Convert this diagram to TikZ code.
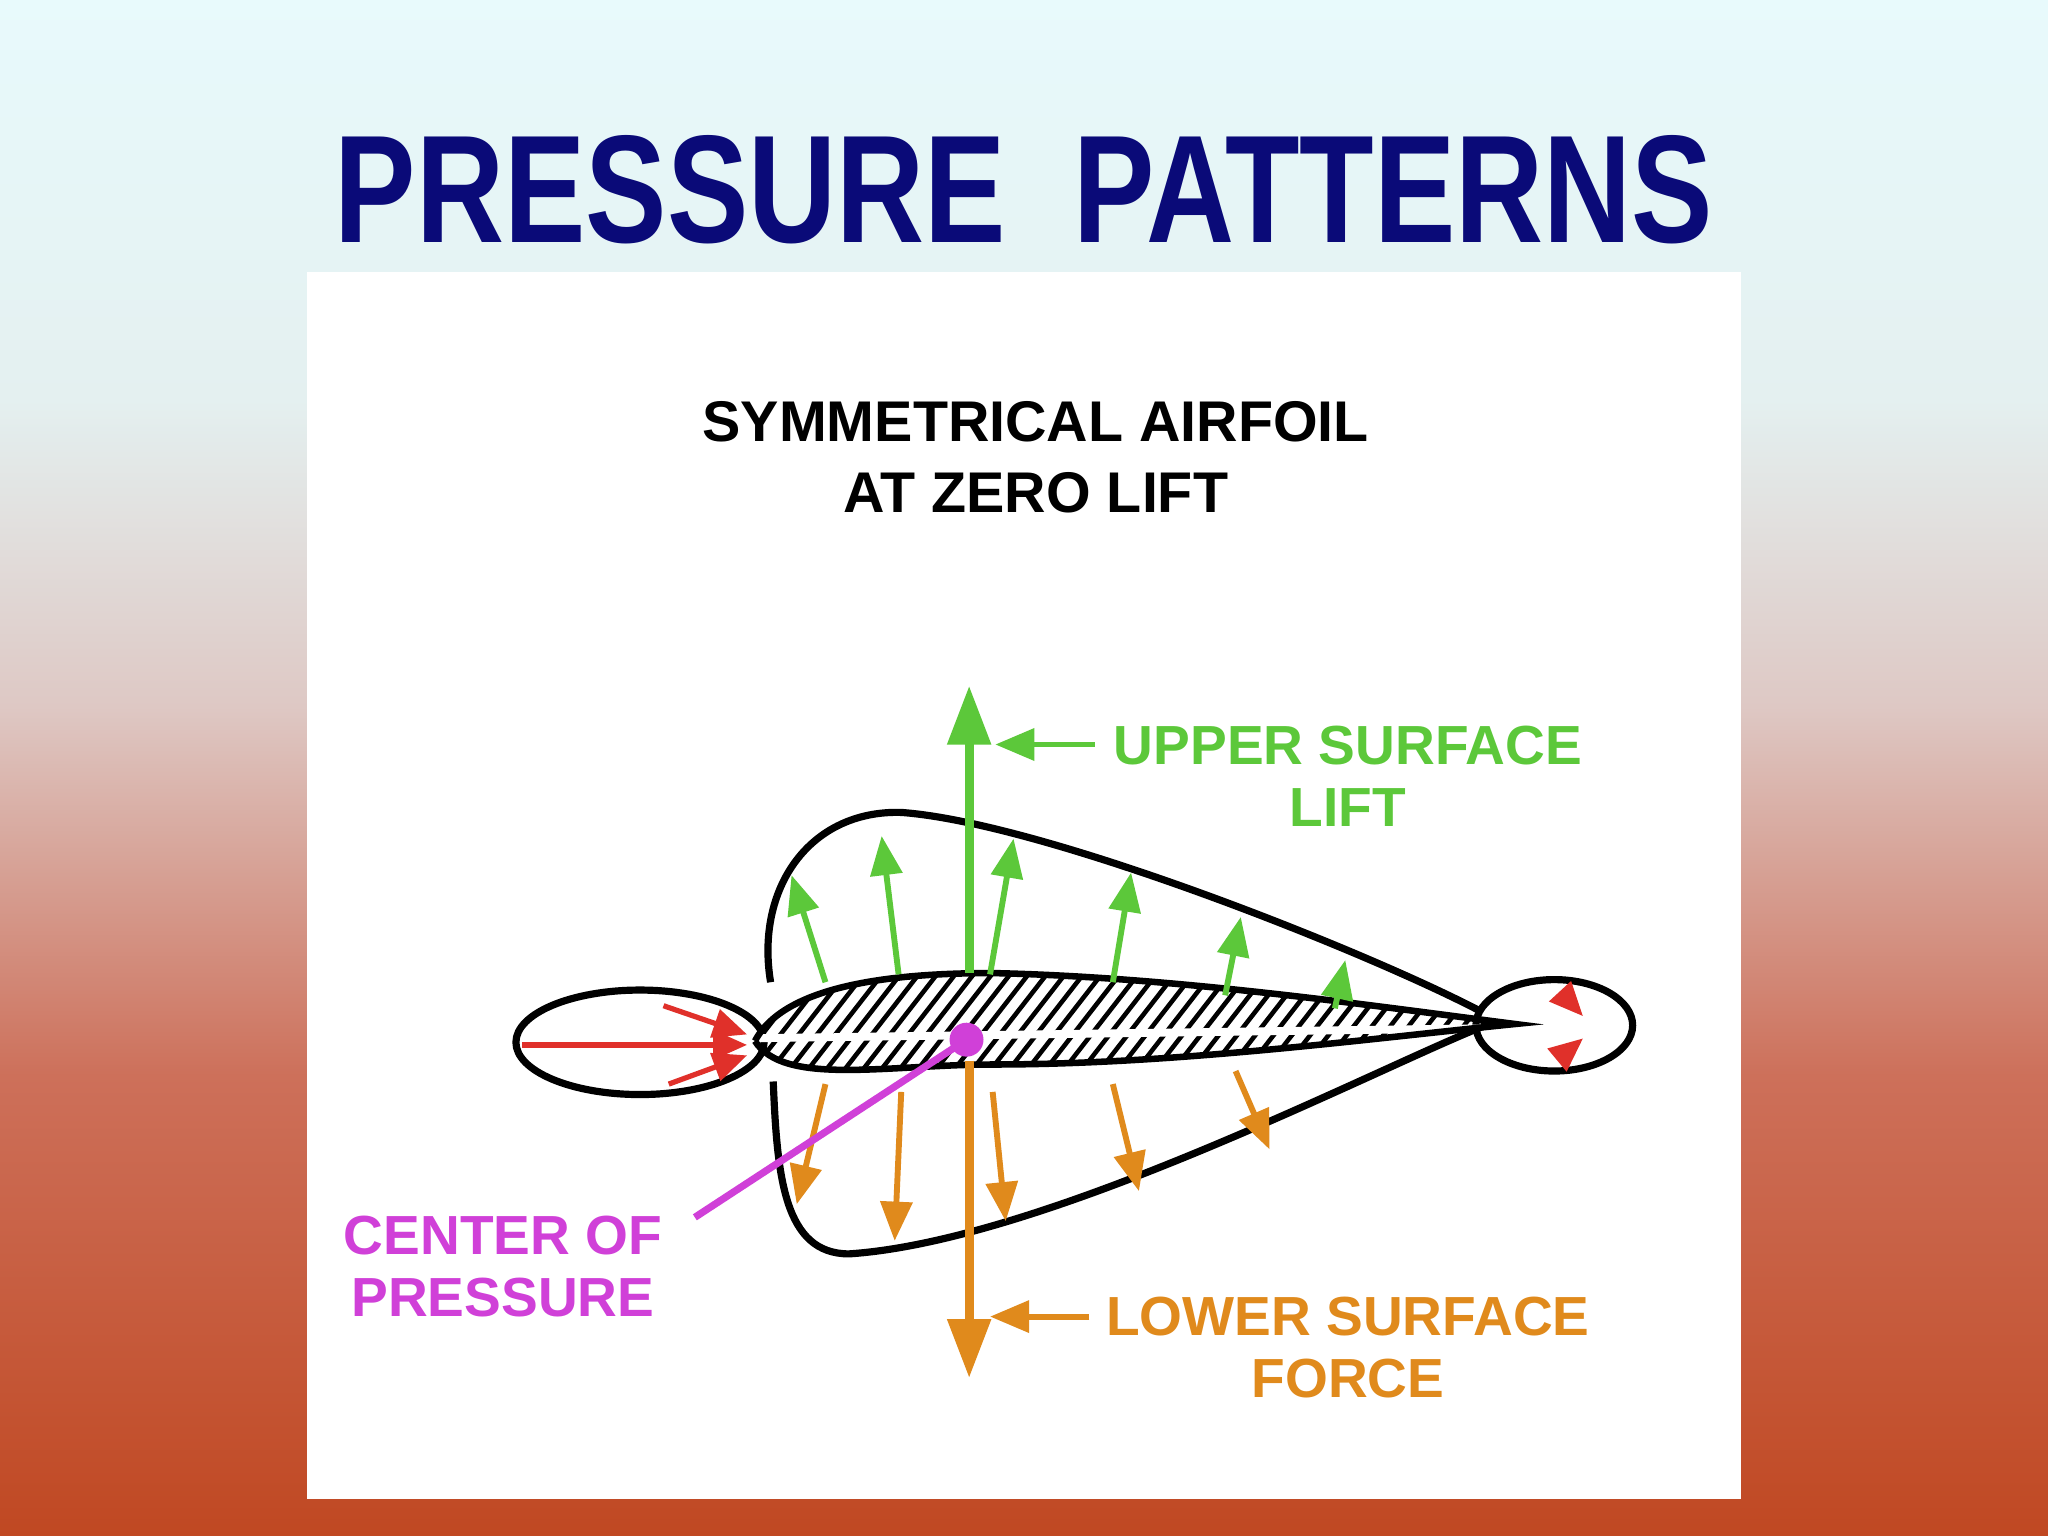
\documentclass[tikz,border=0pt]{standalone}
\usepackage{fontspec}
\setmainfont{Liberation Sans}
\usetikzlibrary{arrows.meta}
\definecolor{navy}{HTML}{0A0A78}
\definecolor{grn}{HTML}{5CC83A}
\definecolor{org}{HTML}{E08A1C}
\definecolor{rd}{HTML}{E0302A}
\definecolor{mag}{HTML}{D040D8}
\pgfdeclareverticalshading{bg}{100bp}{
  color(0bp)=(rgb,255:red,192;green,72;blue,34);
  color(25bp)=(rgb,255:red,192;green,72;blue,34);
  color(40bp)=(rgb,255:red,205;green,112;blue,90);
  color(52bp)=(rgb,255:red,222;green,200;blue,196);
  color(62bp)=(rgb,255:red,228;green,240;blue,240);
  color(75bp)=(rgb,255:red,232;green,250;blue,252);
  color(100bp)=(rgb,255:red,232;green,250;blue,252)}
\tikzset{
  env/.style={line width=0.55mm,black},
  garr/.style={grn,line width=0.45mm,-{Triangle[length=3mm,width=2.4mm]}},
  oarr/.style={org,line width=0.45mm,-{Triangle[length=3mm,width=2.4mm]}},
  rarr/.style={rd,line width=0.4mm,-{Triangle[length=2.6mm,width=2.2mm]}},
  lbl/.style={font=\bfseries\fontsize{12}{13.5}\selectfont,align=center}
}
\begin{document}
\begin{tikzpicture}[x=0.1mm,y=-0.1mm]
\useasboundingbox (0,0) rectangle (1568,1176);
\shade[shading=bg] (0,0) rectangle (1568,1176);
\fill[white] (235,208) rectangle (1333,1148);
\node[navy,font=\bfseries] (title) at (784,145) {\resizebox{105.5mm}{8.2mm}{PRESSURE\ \ PATTERNS}};
\node[lbl,font=\bfseries\fontsize{12.5}{14}\selectfont] (t1) at (793,323) {SYMMETRICAL AIRFOIL};
\node[lbl,font=\bfseries\fontsize{12.5}{14}\selectfont] (t2) at (793,377) {AT ZERO LIFT};
% envelopes
\draw[env] (590,752) .. controls (578,680) and (620,620) .. (690,622) .. controls (800,630) and (1050,730) .. (1135,775);
\draw[env] (592,828) .. controls (595,900) and (600,960) .. (650,960) .. controls (800,950) and (1050,820) .. (1135,786);
\draw[env] (490,798) ellipse (95 and 40);
\draw[env] (1190,785) ellipse (60 and 35);
% airfoil
\begin{scope}
\clip (578,797) .. controls (600,755) and (680,745) .. (760,745) .. controls (900,748) and (1050,770) .. (1160,784) .. controls (1050,795) and (900,815) .. (760,815) .. controls (680,815) and (600,832) .. (578,797);
\foreach \i in {0,...,50}{\draw[line width=0.35mm] (540+\i*14,830) -- (610+\i*14,740);}
\draw[white,line width=0.6mm] (570,795) -- (1160,787);
\end{scope}
\draw[line width=0.5mm] (578,797) .. controls (600,755) and (680,745) .. (760,745) .. controls (900,748) and (1050,770) .. (1160,784) .. controls (1050,795) and (900,815) .. (760,815) .. controls (680,815) and (600,832) .. (578,797);
% green
\foreach \a/\b/\c/\d in {632/752/606/670, 688/746/675/640, 758/746/776/642, 852/752/866/668, 938/762/950/702, 1022/772/1030/735}
  \draw[garr] (\a,\b) -- (\c,\d);
\coordinate (lt) at (742,745);
\coordinate (lh) at (742,525);
\draw[garr,line width=0.7mm,-{Triangle[length=4.5mm,width=3.2mm]}] (lt) -- (lh);
\node[lbl,grn] (ul) at (1032,594) {UPPER SURFACE\\LIFT};
\draw[garr] (838,570) -- (762,570);
% orange
\foreach \a/\b/\c/\d in {632/830/610/922, 690/836/685/950, 760/836/770/935, 852/830/872/912, 946/820/972/880}
  \draw[oarr] (\a,\b) -- (\c,\d);
\coordinate (ft) at (742,812);
\coordinate (fh) at (742,1055);
\draw[oarr,line width=0.7mm,-{Triangle[length=4.5mm,width=3.2mm]}] (ft) -- (fh);
\node[lbl,org] (lf) at (1032,1032) {LOWER SURFACE\\FORCE};
\draw[oarr] (834,1008) -- (758,1008);
% red
\draw[rarr] (400,800) -- (572,800);
\draw[rarr] (508,770) -- (572,792);
\draw[rarr] (512,830) -- (572,808);
\draw[rarr] (1200,765) -- (1212,778);
\draw[rarr] (1200,805) -- (1212,795);
% center of pressure
\node[circle,fill=mag,inner sep=0pt,minimum size=2.6mm] (cp) at (740,796) {};
\node[lbl,mag] (cpl) at (385,970) {CENTER OF\\PRESSURE};
\coordinate (cpe) at (532,932);
\draw[mag,line width=0.55mm] (cp.center) -- (cpe);
\end{tikzpicture}
\end{document}
